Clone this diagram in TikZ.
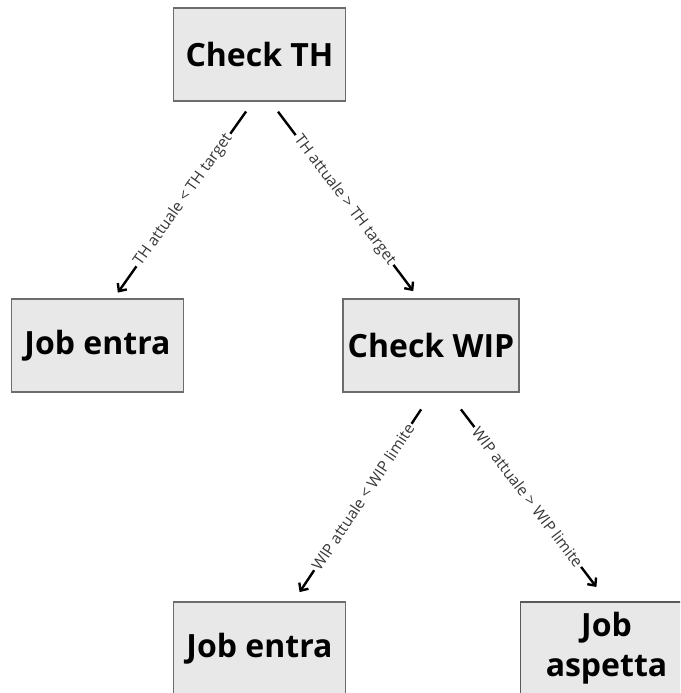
\documentclass[tikz,border=0pt]{standalone}
\usepackage{fontspec}
\setmainfont{Open Sans}
\usetikzlibrary{arrows.meta}
\begin{document}
\begin{tikzpicture}[x=1pt,y=1pt,
  decision/.style={draw=gray!85!black, line width=1.4pt, fill=black!9,
    minimum width=172pt, minimum height=93pt, inner sep=0pt,
    font=\fontsize{32}{40}\selectfont\bfseries, align=center},
  branch/.style={draw=black, line width=2.4pt,
    -{Straight Barb[length=6pt,width=11pt,line width=2.4pt]}},
  cond/.style={sloped, fill=white, inner sep=2pt, text=black!78,
    font=\fontsize{15.5}{18}\selectfont}]
  \useasboundingbox (0,0) rectangle (680,-693);
  \clip (0,0) rectangle (680,-693);

  % decision boxes
  \node[decision] (th)  at (259.5,-54.5)  {Check TH};
  \node[decision] (je1) at (97.5,-345.5)  {Job entra};
  \node[decision, minimum width=176pt] (wip) at (431,-345.5) {Check WIP};
  \node[decision] (je2) at (259.5,-648.5) {Job entra};
  \node[decision, draw=black!65] (wait) at (606.5,-648.5) {Job\\aspetta};

  % branches with their conditions
  \draw[branch, shorten <=12pt, shorten >=7pt]
    ([xshift=-6.5pt]th.south) -- node[cond] {TH attuale < TH target} ([xshift=16.3pt]je1.north);
  \draw[branch, shorten <=12.5pt, shorten >=9pt]
    ([xshift=11pt]th.south) -- node[cond] {TH attuale > TH target} ([xshift=-12.3pt]wip.north);
  \draw[branch, shorten <=20pt, shorten >=11pt]
    ([xshift=1.2pt]wip.south) -- node[cond] {WIP attuale < WIP limite} ([xshift=34pt]je2.north);
  \draw[branch, shorten <=21pt, shorten >=18pt]
    ([xshift=17.2pt]wip.south) -- node[cond] {WIP attuale > WIP limite} ([xshift=0.8pt]wait.north);
\end{tikzpicture}
\end{document}
